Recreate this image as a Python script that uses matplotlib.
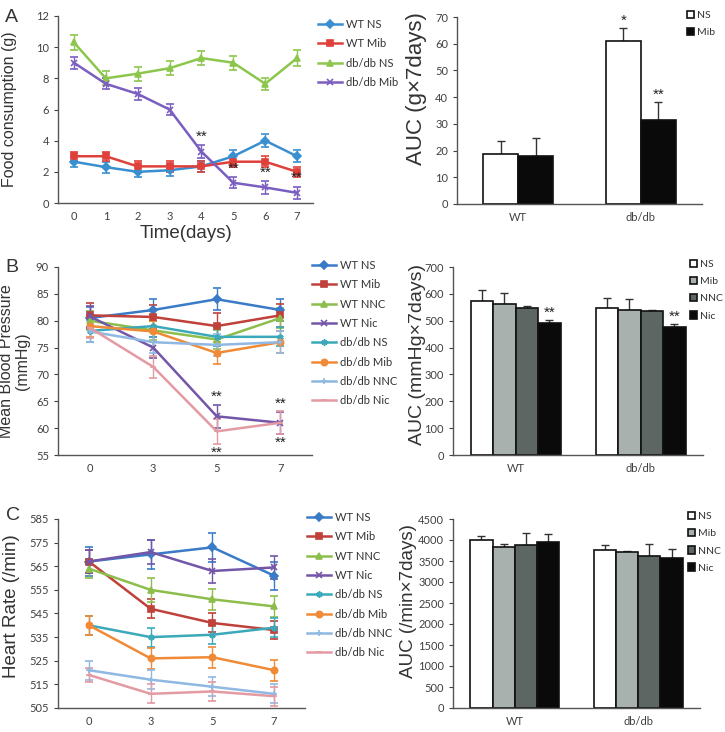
import numpy as np
import matplotlib
matplotlib.use("Agg")
import matplotlib.pyplot as plt

# ---------------- data ----------------
# Panel A: food consumption
a_days = ["0", "1", "2", "3", "4", "5", "6", "7"]
a_names = ["WT NS", "WT Mib", "db/db NS", "db/db Mib"]
a_wt_ns = [2.65, 2.3, 2.0, 2.1, 2.35, 3.0, 4.0, 3.0]
a_wt_mib = [3.0, 3.0, 2.35, 2.35, 2.35, 2.65, 2.65, 2.0]
a_db_ns = [10.3, 8.0, 8.3, 8.65, 9.3, 9.0, 7.65, 9.3]
a_db_mib = [9.0, 7.65, 7.0, 6.0, 3.3, 1.3, 1.0, 0.65]
a_err_wt_ns = [0.35, 0.35, 0.35, 0.35, 0.35, 0.4, 0.4, 0.4]
a_err_wt_mib = [0.3, 0.3, 0.35, 0.35, 0.35, 0.35, 0.35, 0.3]
a_err_db_ns = [0.5, 0.45, 0.45, 0.45, 0.45, 0.45, 0.4, 0.5]
a_err_db_mib = [0.4, 0.35, 0.4, 0.35, 0.4, 0.35, 0.4, 0.4]
a_star_idx = [4, 5, 6, 7]

a_auc_groups = ["WT", "db/db"]
a_auc_ns = [18.7, 61.0]
a_auc_mib = [18.0, 31.3]
a_auc_ns_err = [4.8, 4.8]
a_auc_mib_err = [6.8, 6.7]
a_auc_ns_star = ["", "*"]
a_auc_mib_star = ["", "**"]

# Panel B: mean blood pressure
b_days = ["0", "3", "5", "7"]
b_names = ["WT NS", "WT Mib", "WT NNC", "WT Nic",
           "db/db NS", "db/db Mib", "db/db NNC", "db/db Nic"]
b_vals = [
    [80.5, 82.0, 84.0, 82.0],
    [81.0, 80.7, 79.0, 81.0],
    [80.0, 78.2, 76.5, 80.5],
    [80.8, 75.0, 62.2, 61.0],
    [78.1, 79.0, 77.0, 77.0],
    [79.0, 78.0, 74.0, 76.0],
    [78.0, 76.0, 75.5, 76.0],
    [78.7, 71.4, 59.4, 61.0],
]
b_errs = [
    [2.0, 2.0, 2.0, 2.0],
    [2.3, 2.2, 2.4, 2.2],
    [1.8, 1.8, 1.8, 1.8],
    [2.0, 2.0, 2.1, 2.0],
    [2.0, 2.0, 1.8, 1.8],
    [2.0, 2.0, 2.0, 2.0],
    [2.0, 2.0, 2.0, 2.0],
    [2.0, 2.1, 2.3, 2.1],
]
b_auc_groups = ["WT", "db/db"]
b_auc_names = ["NS", "Mib", "NNC", "Nic"]
b_auc_vals = [[575, 546], [563, 540], [548, 535], [492, 476]]
b_auc_errs = [[40, 39], [40, 40], [7, 5], [10, 10]]

# Panel C: heart rate
c_days = ["0", "3", "5", "7"]
c_vals = [
    [567, 570, 573, 561],
    [567, 547, 541, 538],
    [564, 555, 551, 548],
    [567, 571, 563, 564.5],
    [540, 535, 536, 539],
    [540, 526, 526.5, 521],
    [521, 517, 514, 511],
    [519, 511, 512, 510],
]
c_errs = [
    [6, 6, 6, 6],
    [5, 4, 4, 4],
    [4, 5, 4.5, 4.5],
    [5, 5, 5, 5],
    [4, 4, 4, 4],
    [4, 4.5, 4.5, 4.5],
    [4, 4, 4, 4],
    [3, 4, 4, 4],
]
c_auc_vals = [[3990, 3770], [3840, 3710], [3880, 3620], [3960, 3580]]
c_auc_errs = [[110, 100], [60, 40], [280, 280], [190, 200]]

# ---------------- style ----------------
line_colors = ["#3A7BC8", "#C0403A", "#8DBE4C", "#7356A8",
               "#3BA9BA", "#F08A36", "#8FB8E3", "#E39AA3"]
line_markers = ["D", "s", "^", "x", (6, 2, 0), "o", "+", "_"]
a_colors = ["#3A8FD0", "#E0403A", "#8DC64C", "#7A5EC0"]
a_markers = ["D", "s", "^", "x"]
bar_colors = ["#FFFFFF", "#A9B1AE", "#5E6664", "#0A0A0A"]
tick_color = "#404040"
spine_color = "#555555"

plt.rcParams["font.family"] = ["Liberation Sans", "DejaVu Sans"]

W, H = 725, 732
fig = plt.figure(figsize=(W / 100, H / 100), dpi=100)
fig.patch.set_facecolor("white")


def add_ax(x0, y0, x1, y1):
    return fig.add_axes([x0 / W, 1 - y1 / H, (x1 - x0) / W, (y1 - y0) / H])


def style_ax(ax):
    for s in ["top", "right"]:
        ax.spines[s].set_visible(False)
    for s in ["left", "bottom"]:
        ax.spines[s].set_color(spine_color)
        ax.spines[s].set_linewidth(1.0)
    ax.tick_params(axis="both", labelsize=8, colors=tick_color, length=3, width=0.8)
    ax.tick_params(axis="x", length=0, pad=6)
    for lab in ax.get_xticklabels() + ax.get_yticklabels():
        lab.set_family(["Lato", "DejaVu Sans"])


def legend_at(ax, handles, labels, x, y, spacing=0.75, hl=2.2, fs=8, tp=0.3):
    leg = ax.legend(handles, labels, loc="upper left",
                    bbox_to_anchor=(x / W, 1 - y / H),
                    bbox_transform=fig.transFigure, frameon=False,
                    fontsize=fs, labelspacing=spacing, handlelength=hl,
                    handletextpad=tp, borderpad=0, borderaxespad=0)
    for t in leg.get_texts():
        t.set_color("#333333")
        t.set_family(["Lato", "DejaVu Sans"])
    return leg


def line_panel(ax, days, vals, errs, colors, markers):
    x = np.arange(len(days))
    handles = []
    for v, e, c, m in zip(vals, errs, colors, markers):
        eb = ax.errorbar(x, v, yerr=e, color=c, marker=m, markersize=4.5,
                         markeredgewidth=1.2, linewidth=1.8, elinewidth=1.0,
                         capsize=3, capthick=1.0)
        handles.append(eb.lines[0])
    ax.set_xticks(x)
    ax.set_xticklabels(days)
    ax.set_xlim(-0.5, len(days) - 0.5)
    return handles


def bar_panel(ax, groups, vals, errs, width, colors):
    n = len(vals)
    x = np.arange(len(groups))
    rects = []
    for i, (v, e) in enumerate(zip(vals, errs)):
        pos = x + (i - (n - 1) / 2) * width
        r = ax.bar(pos, v, width, color=colors[i],
                   edgecolor="#111111", linewidth=1.2, zorder=2)
        ax.errorbar(pos, v, yerr=[np.zeros(len(v)), e], fmt="none",
                    ecolor="#333333", elinewidth=1.0, capsize=3, capthick=1.0, zorder=1)
        rects.append(r)
    ax.set_xticks(x)
    ax.set_xticklabels(groups)
    ax.set_xlim(-0.5, len(groups) - 0.5)
    return rects


STAR_FS = 11
LAB_C = "#333333"

# ---------------- Panel A left ----------------
axA = add_ax(58, 16, 313, 203)
hA = line_panel(axA, a_days, [a_wt_ns, a_wt_mib, a_db_ns, a_db_mib],
                [a_err_wt_ns, a_err_wt_mib, a_err_db_ns, a_err_db_mib],
                a_colors, a_markers)
axA.set_ylim(0, 12)
axA.set_yticks(range(0, 13, 2))
style_ax(axA)
axA.set_ylabel("Food consumption (g)", fontsize=11.5, color=LAB_C)
axA.yaxis.set_label_coords(-0.16, 0.5)
axA.set_xlabel("Time(days)", fontsize=13.5, color=LAB_C, labelpad=2)
for i in a_star_idx:
    axA.text(i, a_db_mib[i] + a_err_db_mib[i] + 0.1, "**", ha="center",
             va="bottom", fontsize=STAR_FS, color="#222222")
legend_at(axA, hA, a_names, 318, 19)
fig.text(5 / W, 1 - 17 / H, "A", fontsize=14, color=LAB_C, va="center")

# ---------------- Panel A right ----------------
axA2 = add_ax(457, 17, 702, 204)
width_a = 0.286
rA = bar_panel(axA2, a_auc_groups, [a_auc_ns, a_auc_mib],
               [a_auc_ns_err, a_auc_mib_err], width_a, ["#FFFFFF", "#0A0A0A"])
axA2.set_ylim(0, 70)
axA2.set_yticks(range(0, 71, 10))
style_ax(axA2)
axA2.set_ylabel("AUC (g×7days)", fontsize=16, color=LAB_C)
axA2.yaxis.set_label_coords(-0.122, 0.615)
for i in range(2):
    axA2.text(i - width_a / 2, a_auc_ns[i] + a_auc_ns_err[i] + 0.3, a_auc_ns_star[i],
              ha="center", va="bottom", fontsize=STAR_FS, color="#222222")
    axA2.text(i + width_a / 2, a_auc_mib[i] + a_auc_mib_err[i] + 0.3, a_auc_mib_star[i],
              ha="center", va="bottom", fontsize=STAR_FS, color="#222222")
legend_at(axA2, [r[0] for r in rA], ["NS", "Mib"], 687, 11, spacing=0.75,
          hl=0.7, fs=7.5)

# ---------------- Panel B left ----------------
axB = add_ax(58, 267, 312, 455)
hB = line_panel(axB, b_days, b_vals, b_errs, line_colors, line_markers)
axB.set_ylim(55, 90)
axB.set_yticks(range(55, 91, 5))
style_ax(axB)
axB.set_ylabel("Mean Blood Pressure\n(mmHg)", fontsize=11.5, color=LAB_C,
               linespacing=1.1)
axB.yaxis.set_label_coords(-0.11, 0.5)
for i in [2, 3]:
    axB.text(i, b_vals[3][i] + b_errs[3][i] + 0.3, "**", ha="center",
             va="bottom", fontsize=STAR_FS, color="#222222")
    axB.text(i, b_vals[7][i] - b_errs[7][i] - 0.3, "**", ha="center",
             va="top", fontsize=STAR_FS, color="#222222")
legend_at(axB, hB, b_names, 312, 260)
fig.text(5 / W, 1 - 267 / H, "B", fontsize=14, color=LAB_C, va="center")

# ---------------- Panel B right ----------------
axB2 = add_ax(453, 267, 703, 455)
width_b = 0.18
rB = bar_panel(axB2, b_auc_groups, b_auc_vals, b_auc_errs, width_b, bar_colors)
axB2.set_ylim(0, 700)
axB2.set_yticks(range(0, 701, 100))
style_ax(axB2)
axB2.set_ylabel("AUC (mmHg×7days)", fontsize=14, color=LAB_C)
axB2.yaxis.set_label_coords(-0.11, 0.537)
for g in range(2):
    axB2.text(g + 1.5 * width_b, b_auc_vals[3][g] + b_auc_errs[3][g] + 1, "**",
              ha="center", va="bottom", fontsize=STAR_FS, color="#222222")
legend_at(axB2, [r[0] for r in rB], b_auc_names, 690, 260, spacing=0.75,
          hl=0.7, fs=7.5)

# ---------------- Panel C left ----------------
axC = add_ax(58, 519, 305, 708)
hC = line_panel(axC, c_days, c_vals, c_errs, line_colors, line_markers)
axC.set_ylim(505, 585)
axC.set_yticks(range(505, 586, 10))
style_ax(axC)
axC.set_ylabel("Heart Rate (/min)", fontsize=13.5, color=LAB_C)
axC.yaxis.set_label_coords(-0.154, 0.54)
legend_at(axC, hC, b_names, 307, 512)
fig.text(6 / W, 1 - 516 / H, "C", fontsize=14, color=LAB_C, va="center")

# ---------------- Panel C right ----------------
axC2 = add_ax(453, 519, 700, 708)
rC = bar_panel(axC2, b_auc_groups, c_auc_vals, c_auc_errs, width_b, bar_colors)
axC2.set_ylim(0, 4500)
axC2.set_yticks(range(0, 4501, 500))
style_ax(axC2)
axC2.set_ylabel("AUC (/min×7days)", fontsize=13.5, color=LAB_C)
axC2.yaxis.set_label_coords(-0.145, 0.566)
legend_at(axC2, [r[0] for r in rC], b_auc_names, 688, 512, spacing=0.75,
          hl=0.7, fs=7.5)

fig.savefig("out.png", dpi=100, facecolor="white")
